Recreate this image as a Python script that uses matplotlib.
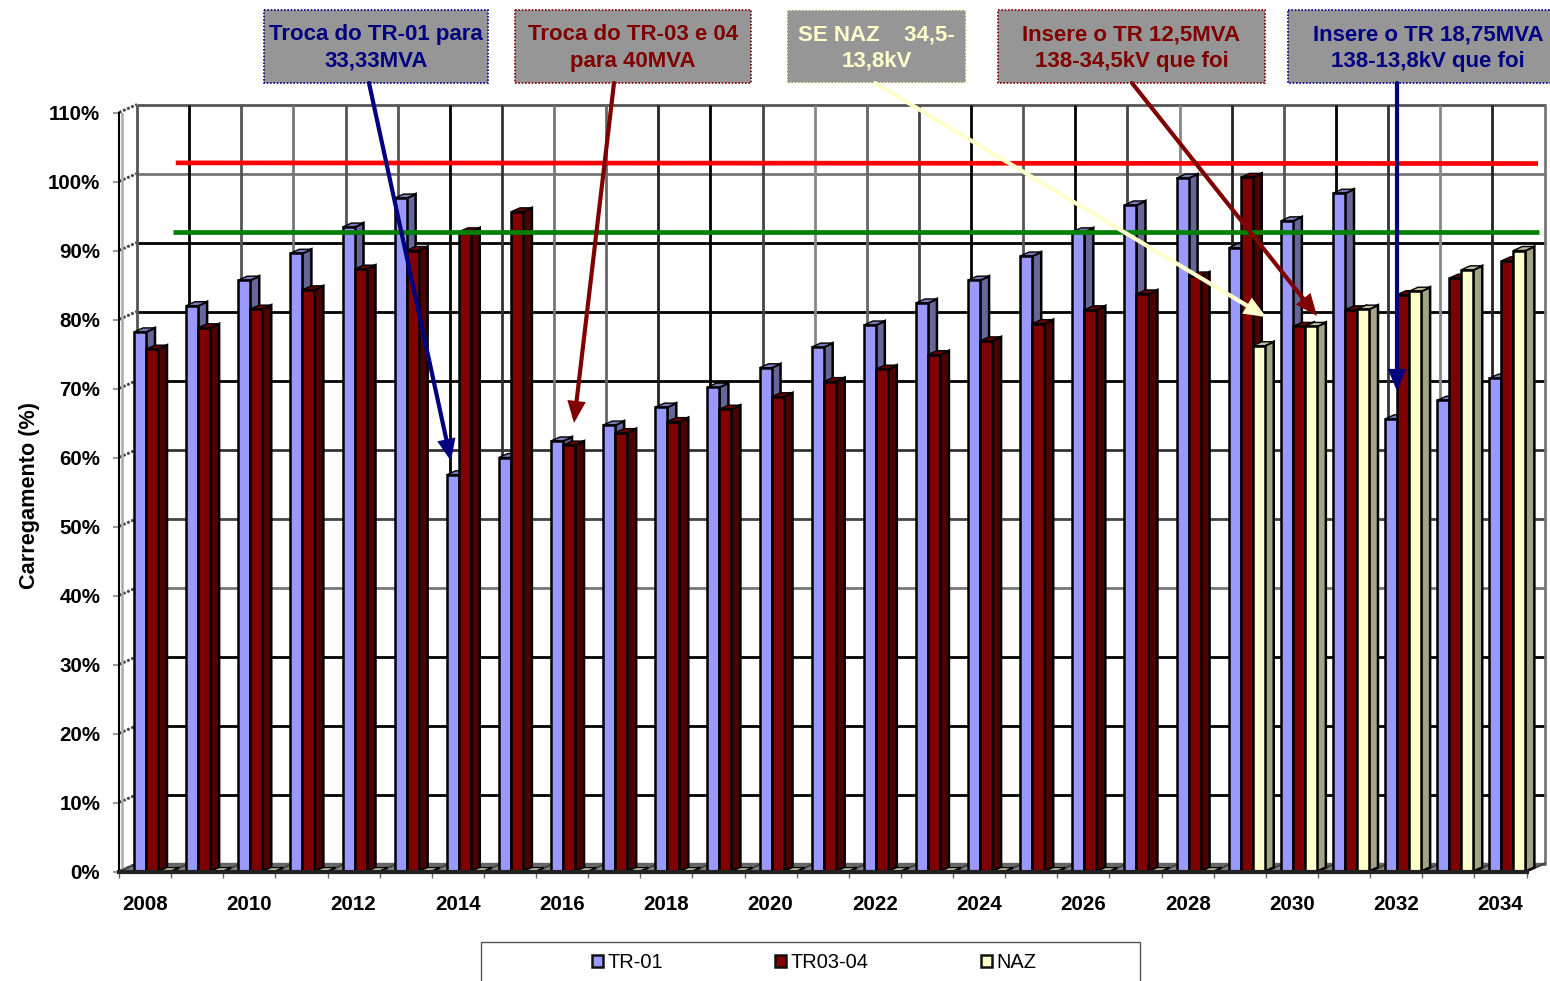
import matplotlib
matplotlib.use('Agg')
import matplotlib.pyplot as plt
from matplotlib.patches import Patch, Rectangle

plt.rcParams['font.family'] = ['Liberation Sans', 'DejaVu Sans']

years = list(range(2008, 2035))
tr01 = [78.2, 82.0, 85.7, 89.6, 93.4, 97.6, 57.5, 60.0, 62.4, 64.7, 67.3, 70.2, 73.0, 76.0,
        79.2, 82.4, 85.7, 89.2, 92.7, 96.6, 100.5, 90.4, 94.3, 98.3, 65.6, 68.3, 71.5]
tr0304 = [75.7, 78.8, 81.5, 84.3, 87.3, 90.0, 92.7, 95.6, 61.8, 63.6, 65.2, 67.0, 68.8, 71.0,
          72.8, 74.9, 76.9, 79.4, 81.4, 83.7, 86.3, 100.6, 79.0, 81.4, 83.6, 86.0, 88.5]
naz = [0, 0, 0, 0, 0, 0, 0, 0, 0, 0, 0, 0, 0, 0,
       0, 0, 0, 0, 0, 0, 0, 76.2, 79.0, 81.5, 84.1, 87.2, 90.0]

series_names = ['TR-01', 'TR03-04', 'NAZ']
front_colors = ['#9999FF', '#800000', '#FFFFCC']
side_colors = ['#666699', '#4D0000', '#A3A385']
top_colors = ['#7A7AB8', '#660000', '#BDBD9C']

limit_red = 102.7
limit_green = 92.7
navy = '#000080'
dark_red = '#800000'
cream = '#FFFFCC'

# cor de cada linha da grade (o original sai serrilhado)
hgrid_colors = ['#666666', 'black', 'black', 'black', '#777777', '#444444',
                '#333333', 'black', 'black', 'black', '#777777', '#555555']
vgrid_colors = ['#555555', 'black', '#555555', '#777777', '#555555', '#555555', 'black',
                '#333333', '#777777', '#666666', '#222222', 'black', '#444444', '#888888',
                '#666666', '#444444', 'black', '#555555', 'black', '#444444', '#888888',
                '#222222', '#555555', 'black', '#333333', '#888888', '#222222', '#777777']

# caixas: texto, cor, x0, y0, x1, y1 (pixels da figura)
boxes = [
    ('Troca do TR-01 para\n33,33MVA', navy, 264, 10, 488, 83),
    ('Troca do TR-03 e 04\npara 40MVA', dark_red, 515, 10, 751, 83),
    ('SE NAZ    34,5-\n13,8kV', cream, 787, 10, 966, 83),
    ('Insere o TR 12,5MVA\n138-34,5kV que foi', dark_red, 998, 10, 1265, 83),
    ('Insere o TR 18,75MVA\n138-13,8kV que foi', navy, 1288, 10, 1568, 83),
]
arrows = [
    (369, 83, 451, 461, navy),
    (614, 83, 574, 423, dark_red),
    (875, 83, 1266, 317, cream),
    (1132, 83, 1317, 316, dark_red),
    (1397, 83, 1397, 391, navy),
]

# escala em pixels -> profundidade do grafico 3D
PX_X = 52.13
PX_Y = 6.9
wall_dx = 18 / PX_X
wall_dy = 8 / PX_Y
bar_dx = 9 / PX_X
bar_dy = 4 / PX_Y
bar_w = 12 / PX_X
bar_start = 15 / PX_X

fig = plt.figure(figsize=(15.5, 9.81), dpi=100)
ax = fig.add_axes([119 / 1550, (981 - 871.5) / 981, 27 * PX_X / 1550, 759 / 981])
ax.set_xlim(0, 27)
ax.set_ylim(0, 110)
ax.patch.set_alpha(0)

# parede do fundo e piso
ax.fill([0, wall_dx, 27 + wall_dx, 27], [0, wall_dy, wall_dy, 0], facecolor='#858585',
        edgecolor='#666666', lw=1, clip_on=False, zorder=1)
for i, v in enumerate(range(0, 111, 10)):
    c = hgrid_colors[i]
    ax.plot([wall_dx, 27 + wall_dx + 0.02], [v + wall_dy] * 2, color=c, lw=2, clip_on=False, zorder=1,
            solid_capstyle='butt')
    ax.plot([0, wall_dx], [v, v + wall_dy], color='#444444', lw=2, ls=(0, (1, 0.6)), clip_on=False, zorder=1)
for i in range(28):
    ax.plot([i + wall_dx] * 2, [wall_dy, 110 + wall_dy], color=vgrid_colors[i], lw=2, clip_on=False, zorder=1,
            solid_capstyle='butt')
    ax.plot([i, i + wall_dx], [0, wall_dy], color='#444444', lw=1.5, clip_on=False, zorder=1.5)
ax.plot([0.055, 0.055], [0, 110], color='#AAAAAA', lw=1.8, zorder=1)

# barras
x_pos = list(range(27))
for k, values in enumerate([tr01, tr0304, naz]):
    z = 3 + k
    lefts = [i + bar_start + k * bar_w for i in x_pos]
    for x, v in zip(lefts, values):
        ax.fill([x + bar_w, x + bar_w + bar_dx, x + bar_w + bar_dx, x + bar_w],
                [0, bar_dy, v + bar_dy, v], facecolor=side_colors[k], edgecolor='black',
                lw=1.8, zorder=z, clip_on=False)
        ax.fill([x, x + bar_dx, x + bar_w + bar_dx, x + bar_w],
                [v, v + bar_dy, v + bar_dy, v], facecolor=top_colors[k], edgecolor='black',
                lw=1.0, zorder=z, clip_on=False)
    ax.bar(lefts, values, width=bar_w, align='edge', color=front_colors[k], edgecolor='black',
           linewidth=1.8, zorder=z + 0.5)

ax.plot([1.09, 27.22], [limit_red, limit_red - 0.1], color='#FF0000', lw=3.4, clip_on=False, zorder=8,
        solid_capstyle='butt')
ax.plot([1.04, 27.24], [limit_green, limit_green], color='#008000', lw=3.4, clip_on=False, zorder=8,
        solid_capstyle='butt')

# eixos
for s in ['top', 'right']:
    ax.spines[s].set_visible(False)
ax.spines['left'].set_linewidth(1.5)
ax.spines['bottom'].set_linewidth(3)
ax.spines['bottom'].set_color('#222222')
ax.spines['bottom'].set_zorder(7)
ax.set_yticks(range(0, 111, 10))
ax.set_yticklabels([f'{v}%' for v in range(0, 111, 10)], fontsize=14.8, fontweight='bold')
ax.tick_params(axis='y', length=4.5, width=1.2, pad=9, color='#888888')
ax.set_xticks(range(28))
ax.set_xticklabels([])
ax.tick_params(axis='x', which='major', length=4.5, width=1, color='#666666')
ax.set_xticks([i + 0.5 for i in range(27)], minor=True)
ax.set_xticklabels([str(y) if (y - 2008) % 2 == 0 else '' for y in years], minor=True,
                   fontsize=14.8, fontweight='bold')
ax.tick_params(axis='x', which='minor', length=0, pad=17)
ax.set_ylabel('Carregamento (%)', fontsize=15.6, fontweight='bold')
ax.yaxis.set_label_coords(-0.0562, 0.495)

# camada de anotacoes em pixels
over = fig.add_axes([0, 0, 1, 1], zorder=10)
over.set_xlim(0, 1550)
over.set_ylim(981, 0)
over.axis('off')
for x0, y0, x1, y1, c in arrows:
    over.annotate('', xy=(x1, y1), xytext=(x0, y0),
                  arrowprops=dict(arrowstyle='-|>,head_width=0.26,head_length=0.62', color=c, lw=3.0,
                                  mutation_scale=17, shrinkA=0, shrinkB=0, joinstyle='miter'))
for text, c, x0, y0, x1, y1 in boxes:
    over.add_patch(Rectangle((x0, y0), x1 - x0, y1 - y0, facecolor='#969696', edgecolor=c,
                             lw=1.2, ls=(0, (1, 1))))
    over.text((x0 + x1) / 2, (y0 + y1) / 2 + 1.5, text, color=c, fontsize=16, fontweight='bold',
              ha='center', va='center', linespacing=1.32)

# legenda
over.add_patch(Rectangle((481, 942), 659, 60, facecolor='white', edgecolor='#555555', lw=1))
handles = [Patch(facecolor=front_colors[k], edgecolor='#111111', lw=1.8) for k in range(3)]
over.legend(handles, series_names, ncol=3, frameon=False, fontsize=14.4, loc='center',
            bbox_to_anchor=(814 / 1550, 1 - 963 / 981), bbox_transform=fig.transFigure,
            handlelength=0.55, handleheight=0.55, handletextpad=0.22, columnspacing=5.6)

fig.savefig('out.png', dpi=100)
plt.close()
